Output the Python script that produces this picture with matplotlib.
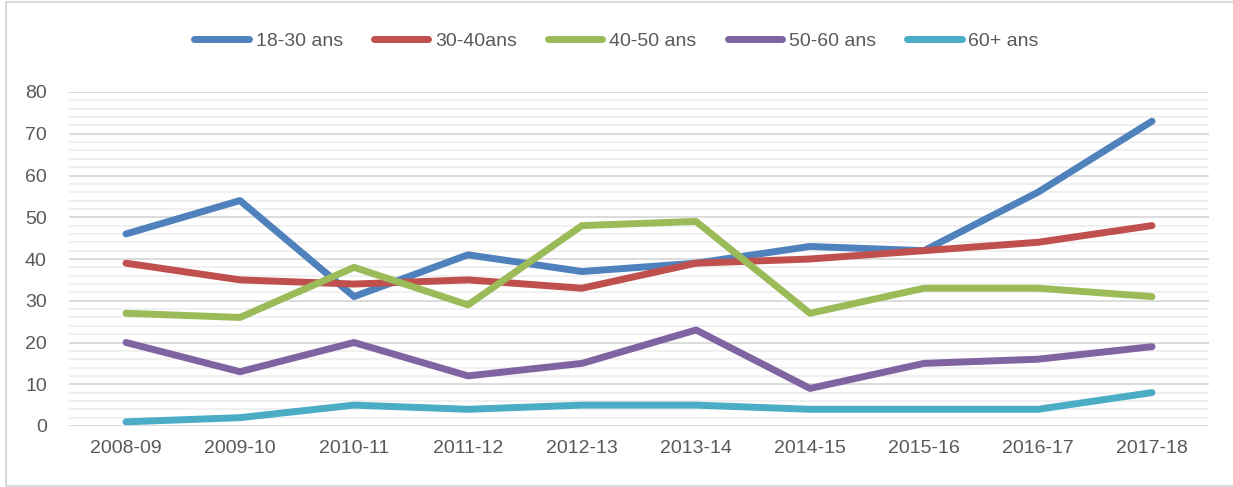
import matplotlib.pyplot as plt
from matplotlib.patches import Rectangle

years = ['2008-09', '2009-10', '2010-11', '2011-12', '2012-13',
         '2013-14', '2014-15', '2015-16', '2016-17', '2017-18']
age_18_30 = [46, 54, 31, 41, 37, 39, 43, 42, 56, 73]
age_30_40 = [39, 35, 34, 35, 33, 39, 40, 42, 44, 48]
age_40_50 = [27, 26, 38, 29, 48, 49, 27, 33, 33, 31]
age_50_60 = [20, 13, 20, 12, 15, 23, 9, 15, 16, 19]
age_60_plus = [1, 2, 5, 4, 5, 5, 4, 4, 4, 8]

series = [
    ('18-30 ans', age_18_30, '#4F81BD'),
    ('30-40ans', age_30_40, '#C0504D'),
    ('40-50 ans', age_40_50, '#9BBB59'),
    ('50-60 ans', age_50_60, '#8064A2'),
    ('60+ ans', age_60_plus, '#4BACC6'),
]

plt.rcParams['font.family'] = ['Liberation Sans', 'DejaVu Sans']

fig = plt.figure(figsize=(12.33, 4.87), dpi=100)
ax = fig.add_axes([69 / 1233, 1 - 426 / 487, 1140 / 1233, 334 / 487])

x = list(range(len(years)))
for label, vals, color in series:
    ax.plot(x, vals, color=color, lw=5, label=label,
            solid_capstyle='round', solid_joinstyle='round', zorder=3)

ax.set_xlim(-0.5, len(years) - 0.5)
ax.set_ylim(0, 80)
ax.set_yticks(range(0, 81, 10))
ax.set_yticks(range(0, 81, 2), minor=True)
ax.set_xticks(x)
ax.set_xticklabels(years)
ax.grid(axis='y', which='major', color='#d9d9d9', lw=1.3, zorder=1)
ax.grid(axis='y', which='minor', color='#efefef', lw=1.3, zorder=0)
ax.tick_params(axis='both', which='both', length=0, labelsize=14,
               labelcolor='#595959')
ax.tick_params(axis='y', pad=16)
ax.tick_params(axis='x', pad=10)
for s in ax.spines.values():
    s.set_visible(False)

leg = fig.legend(loc='center', bbox_to_anchor=(0.5, 1 - 41 / 487), ncol=5,
                 frameon=False, fontsize=14, handlelength=2.8,
                 handletextpad=0.35, columnspacing=1.6)
for t in leg.get_texts():
    t.set_color('#595959')
for h in leg.get_lines():
    h.set_solid_capstyle('round')

fig.patches.append(Rectangle((6 / 1233, 1 / 487), 1.0, 1 - 3 / 487,
                             transform=fig.transFigure, fill=False,
                             edgecolor='#d9d9d9', lw=1.5))

fig.savefig('out.png', dpi=100)
